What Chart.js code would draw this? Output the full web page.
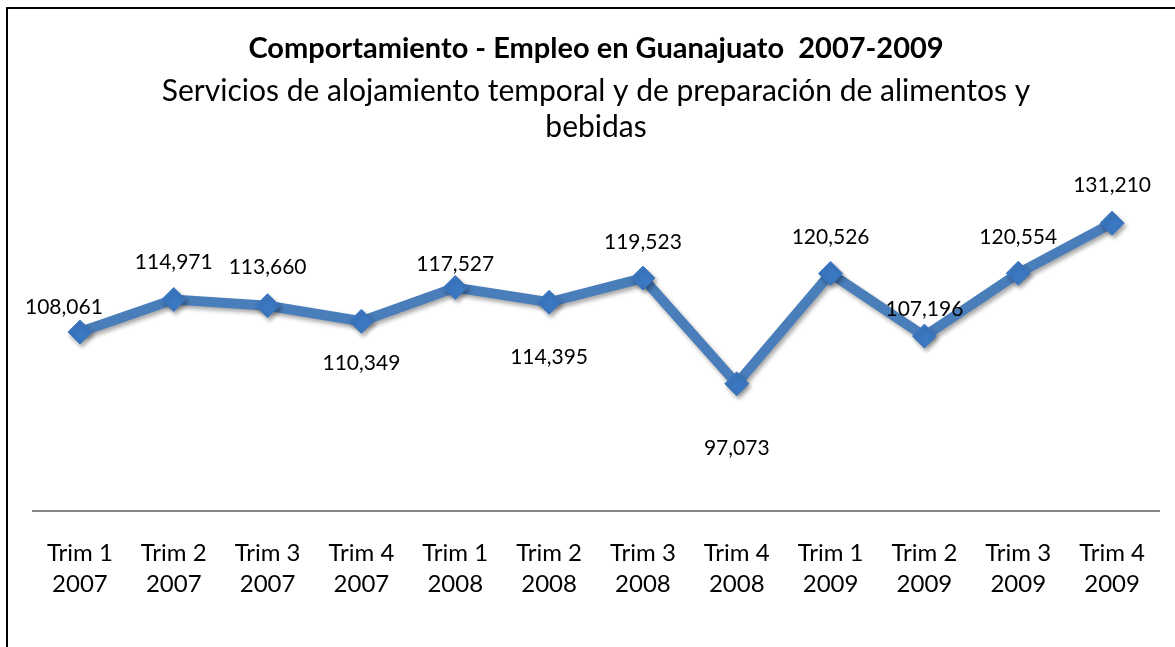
<!DOCTYPE html>
<html>
<head>
<meta charset="utf-8">
<script src="https://cdn.jsdelivr.net/npm/chart.js@4"></script>
<style>
  html, body { margin: 0; padding: 0; background: #fff; overflow: hidden; }
  #frame { position: absolute; left: 6px; top: 7px; width: 1250px; height: 700px; border: 2px solid #000; }
  #wrap { position: absolute; left: 0; top: 0; width: 1175px; height: 647px; }
</style>
</head>
<body>
<div id="frame"></div>
<div id="wrap"><canvas id="myChart" width="1175" height="647"></canvas></div>
<script>
// data
const trimestres = ['Trim 1', 'Trim 2', 'Trim 3', 'Trim 4', 'Trim 1', 'Trim 2', 'Trim 3', 'Trim 4', 'Trim 1', 'Trim 2', 'Trim 3', 'Trim 4'];
const anios = ['2007', '2007', '2007', '2007', '2008', '2008', '2008', '2008', '2009', '2009', '2009', '2009'];
const empleo = [108061, 114971, 113660, 110349, 117527, 114395, 119523, 97073, 120526, 107196, 120554, 131210];

// where each value label sits relative to its point (dx, dy in px)
const labelShift = [[-16, -25], [0, -37], [0, -38], [0, 42], [0, -23], [0, 55], [0, -36], [0, 65], [0, -36], [0, -27], [0, -36], [0, -38]];

const ctx = document.getElementById('myChart');

const shadowPlugin = {
    id: 'lineShadow',
    beforeDatasetsDraw(chart) {
        const c = chart.ctx;
        c.save();
        c.shadowColor = 'rgba(0,0,0,0.35)';
        c.shadowBlur = 4;
        c.shadowOffsetX = 2;
        c.shadowOffsetY = 3;
    },
    afterDatasetsDraw(chart) {
        chart.ctx.restore();
    }
};

const valueLabels = {
    id: 'valueLabels',
    afterDatasetsDraw(chart) {
        const c = chart.ctx;
        const meta = chart.getDatasetMeta(0);
        c.save();
        c.font = '21px Lato';
        c.fillStyle = '#000';
        c.textAlign = 'center';
        c.textBaseline = 'middle';
        meta.data.forEach((pt, i) => {
            const txt = empleo[i].toLocaleString('en-US');
            c.fillText(txt, pt.x + labelShift[i][0], pt.y + labelShift[i][1]);
        });
        c.restore();
    }
};

let empleoChart = new Chart(ctx, {
    type: 'line',
    data: {
        labels: trimestres.map((t, i) => [t, anios[i]]),
        datasets: [{
            label: 'Empleo',
            data: empleo,
            borderColor: '#4A7EBB',
            borderWidth: 10,
            tension: 0,
            pointStyle: 'rectRot',
            pointRadius: 12,
            pointHoverRadius: 12,
            pointBackgroundColor: '#3B78C2',
            pointBorderColor: '#3B78C2',
            pointBorderWidth: 1,
        }]
    },
    options: {
        responsive: false,
        animation: false,
        devicePixelRatio: 1,
        layout: {
            padding: { left: 33, right: 16, top: 0, bottom: 20 }
        },
        plugins: {
            legend: { display: false },
            tooltip: { enabled: false },
            title: {
                display: true,
                text: 'Comportamiento - Empleo en Guanajuato  2007-2009',
                color: '#000',
                font: { family: 'Lato', size: 29, weight: 'bold', lineHeight: 1.2 },
                padding: { top: 31, bottom: 8 }
            },
            subtitle: {
                display: true,
                text: ['Servicios de alojamiento temporal y de preparación de alimentos y', 'bebidas'],
                color: '#000',
                font: { family: 'Lato', size: 30, lineHeight: 1.2 },
                padding: { top: 0, bottom: 36 }
            }
        },
        scales: {
            x: {
                offset: true,
                grid: { display: false, drawTicks: false },
                border: { display: true, color: '#878787', width: 2 },
                ticks: {
                    color: '#000',
                    font: { family: 'Lato', size: 24, lineHeight: 1.29 },
                    padding: 27,
                    maxRotation: 0,
                    autoSkip: false
                }
            },
            y: {
                display: false,
                min: 70000,
                max: 140000
            }
        }
    },
    plugins: [shadowPlugin, valueLabels]
});
</script>
</body>
</html>
